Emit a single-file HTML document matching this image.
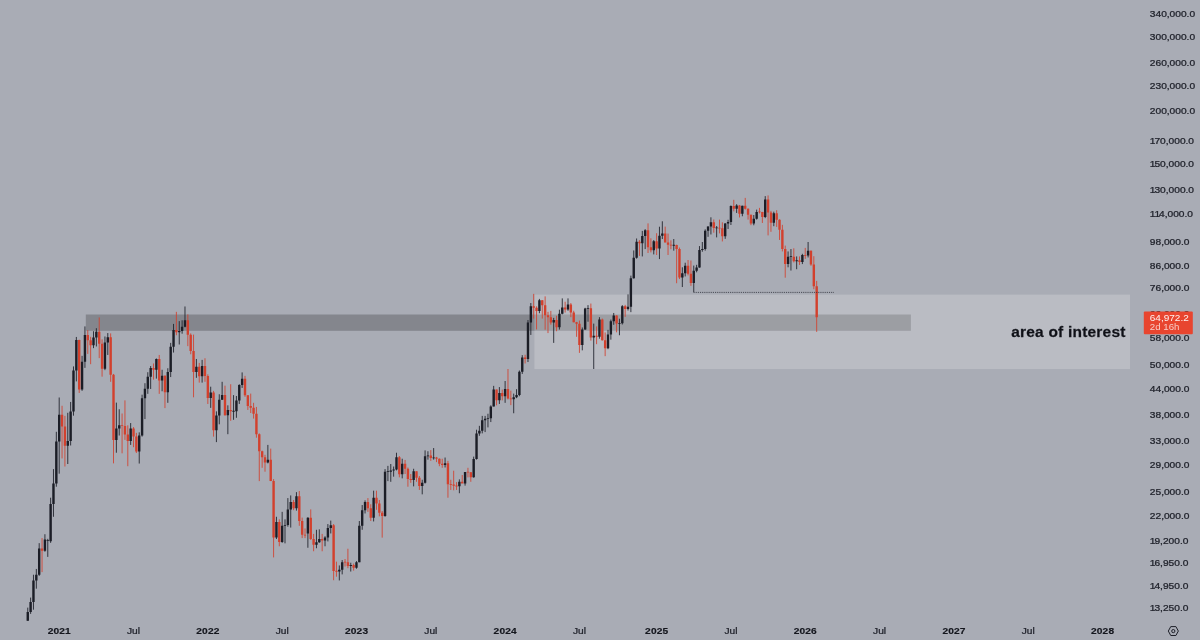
<!DOCTYPE html>
<html lang="en"><head><meta charset="utf-8"><title>BTCUSD weekly - area of interest</title>
<style>
html,body{margin:0;padding:0;background:#a9acb5;}
body{width:1200px;height:640px;overflow:hidden;position:relative;font-family:"Liberation Sans",Arial,sans-serif;}
svg{position:absolute;left:0;top:0;display:block}
svg text{font-family:"Liberation Sans",Arial,sans-serif;font-size:8.5px;fill:#1e2029;stroke:#1e2029;stroke-width:0.25px;}
.yr{font-weight:700;text-anchor:middle;fill:#14161d;stroke:#14161d;stroke-width:0.15px;letter-spacing:0.12px}
.mo{text-anchor:middle;fill:#23252e}
.aoi{font-weight:700;font-size:14px;fill:#0f1016;text-anchor:end;letter-spacing:0.2px}
.plab text{fill:#fff;stroke:none}
</style></head>
<body>
<svg width="1200" height="640" viewBox="0 0 1200 640">
<rect x="0" y="0" width="1200" height="640" fill="#a9acb5"/>
<rect id="darkband" x="85.8" y="314.5" width="825.1" height="16.3" fill="#000000" fill-opacity="0.22"/>
<rect id="lightbox" x="534.4" y="294.6" width="595.6" height="74.5" fill="#ffffff" fill-opacity="0.2"/>
<g id="candles">
<path d="M27.76 607.62V620.80M30.62 597.59V613.91M33.47 574.73V609.69M36.33 568.96V588.69M39.19 543.14V575.89M44.91 534.22V551.76M47.77 538.84V556.90M50.62 497.71V542.85M53.48 469.10V516.79M56.34 431.80V486.71M59.20 397.51V473.68M67.78 412.79V464.00M70.63 401.94V445.48M73.49 366.41V415.66M76.35 336.96V381.40M82.07 355.83V390.86M84.93 326.42V367.89M93.50 331.24V348.15M96.36 328.21V346.48M104.93 336.49V370.14M107.79 333.07V354.96M116.37 402.62V452.73M119.23 409.26V435.53M130.66 423.05V444.92M139.24 432.33V463.56M142.09 394.69V436.61M144.95 383.21V419.07M147.81 372.22V393.83M150.67 366.04V388.97M156.39 358.46V378.62M162.10 369.76V391.28M167.82 368.26V402.84M170.68 342.88V377.05M173.54 323.92V352.54M179.25 321.15V344.51M182.11 320.29V333.69M184.97 306.47V327.32M196.40 358.99V377.83M202.12 359.88V382.61M210.70 386.69V407.86M216.41 411.37V442.11M219.27 394.26V424.31M222.13 381.80V399.94M227.85 405.33V434.19M233.56 395.12V419.81M236.42 395.99V417.80M239.28 384.23V403.97M242.14 372.41V387.93M267.86 444.92V463.37M276.44 516.79V539.03M282.16 511.83V542.85M285.01 519.32V543.34M287.87 498.08V526.69M290.73 495.45V527.57M296.45 492.13V510.61M307.88 517.21V547.75M316.46 529.81V548.24M319.31 529.36V542.85M325.03 536.22V546.27M327.89 524.05V541.41M330.75 520.60V533.44M339.32 565.44V580.45M342.18 560.05V574.39M350.76 562.72V571.54M356.47 561.12V568.74M359.33 521.03V562.19M362.19 505.02V529.81M365.05 500.37V513.47M373.62 490.67V521.46M385.06 469.10V516.79M387.92 465.89V481.11M390.77 464.00V481.80M393.63 466.53V476.68M396.49 452.73V470.39M402.21 458.73V478.37M413.64 468.77V486.36M422.22 479.74V494.34M425.08 450.38V483.54M427.93 451.25V459.65M433.65 448.06V459.65M445.08 457.52V467.49M459.38 479.39V493.23M465.09 476.34V485.65M473.67 456.61V477.69M476.53 429.71V459.65M479.38 425.84V435.80M482.24 415.90V433.39M485.10 415.90V432.07M487.96 413.74V427.38M490.82 405.33V422.05M493.68 385.86V406.48M499.39 387.10V403.97M505.11 381.00V402.84M513.69 393.62V413.26M516.54 389.18V398.17M519.40 370.51V396.21M522.26 355.13V373.94M527.98 320.00V362.03M530.84 303.04V334.93M539.41 298.90V313.25M553.70 317.87V342.88M559.42 309.69V329.57M562.28 298.39V314.36M568.00 298.39V310.78M582.29 327.46V350.33M585.15 307.80V329.87M588.00 305.14V321.73M593.72 323.62V369.01M599.44 317.16V338.70M608.01 329.87V349.15M610.87 319.57V339.66M613.73 312.97V324.80M619.45 318.72V335.24M622.30 305.14V324.50M628.02 294.36V310.51M630.88 275.65V312.15M633.74 250.44V278.60M636.60 238.48V258.67M642.31 230.91V256.43M645.17 229.16V249.07M653.75 240.05V254.41M659.46 226.73V259.08M662.32 221.29V239.03M673.76 239.03V250.64M682.33 267.29V287.03M685.19 262.72V276.44M693.76 265.57V292.13M696.62 264.83V272.30M699.48 246.08V267.72M702.34 242.00V251.72M705.20 229.33V250.64M708.06 226.30V236.83M710.92 217.31V234.48M716.63 226.04V237.38M725.21 223.14V238.85M728.07 219.79V228.98M730.92 205.42V225.01M736.64 204.20V212.94M742.36 205.73V216.25M753.79 215.03V225.27M756.65 209.61V219.62M765.22 196.14V218.14M773.80 211.67V226.21M788.09 251.43V267.29M790.95 249.07V270.54M796.67 256.43V269.23M802.38 253.81V264.09M808.10 242.00V257.44" stroke="#1b1d26" stroke-width="0.85" fill="none"/>
<path d="M42.05 538.09V572.11M62.06 405.79V458.43M64.92 415.90V466.53M79.21 339.66V392.98M87.78 330.02V353.92M90.64 336.81V364.20M99.22 317.44V358.11M102.08 339.34V376.66M110.65 333.38V381.80M113.51 373.94V463.37M122.08 413.50V453.32M124.94 400.38V439.89M127.80 425.33V466.21M133.52 427.12V447.20M136.38 432.86V453.02M153.53 363.48V379.61M159.24 354.96V393.83M164.96 375.30V408.09M176.39 311.87V335.24M187.83 314.36V346.15M190.69 333.38V354.26M193.54 334.62V397.30M199.26 362.93V382.61M204.98 358.28V381.80M207.84 374.33V403.97M213.55 390.86V436.61M224.99 385.66V415.66M230.70 384.23V420.80M245.00 375.88V396.86M247.85 395.12V409.96M250.71 393.62V413.02M253.57 402.84V418.58M256.43 406.94V437.70M259.29 433.39V481.11M262.15 450.67V467.81M265.00 454.81V471.70M270.72 448.64V481.11M273.58 479.05V557.42M279.30 519.32V546.27M293.59 499.99V510.20M299.31 491.03V525.80M302.16 517.63V538.09M305.02 528.46V538.09M310.74 509.40V539.98M313.60 533.90V551.25M322.17 533.90V551.25M333.61 524.05V580.21M336.46 561.65V576.70M345.04 559.00V566.53M347.90 548.74V568.19M353.62 563.59V570.64M367.91 498.08V511.83M370.77 504.24V521.03M376.48 490.67V509.80M379.34 499.99V516.37M382.20 511.01V537.62M399.35 456.01V477.36M405.07 459.96V474.01M407.92 467.49V486.71M410.78 474.01V482.84M416.50 471.37V481.80M419.36 476.01V489.94M430.79 450.09V460.88M436.51 456.91V462.12M439.37 458.43V466.21M442.23 458.73V467.81M447.94 460.88V497.71M450.80 479.74V489.94M453.66 470.72V490.31M456.52 482.15V489.94M462.23 475.01V482.84M467.95 467.81V477.36M470.81 472.03V481.80M496.54 389.60V405.33M502.25 389.60V400.38M507.97 369.01V399.49M510.83 390.65V405.11M525.12 354.78V363.48M533.69 293.86V318.58M536.55 306.33V329.42M542.27 300.05V318.58M545.13 296.36V329.72M547.99 311.87V333.07M550.84 310.91V324.65M556.56 315.75V331.24M565.14 301.73V312.56M570.85 303.04V317.16M573.71 310.78V322.31M576.57 321.88V336.81M579.43 320.58V352.89M590.86 303.56V340.62M596.58 326.42V344.18M602.30 318.58V340.62M605.15 332.46V356.17M616.59 315.33V332.31M625.16 304.88V316.88M639.46 240.14V255.92M648.03 223.39V253.01M650.89 238.29V252.42M656.61 233.22V255.01M665.18 226.64V242.29M668.04 233.58V255.01M670.90 240.33V249.27M676.61 244.65V283.23M679.47 247.52V279.06M688.05 260.01V275.42M690.91 260.53V285.83M713.77 219.46V232.69M719.49 219.62V233.40M722.35 222.30V241.44M733.78 199.82V211.35M739.50 204.96V217.48M745.22 197.90V209.61M748.07 208.36V219.62M750.93 214.63V225.18M759.51 207.89V213.42M762.37 211.83V222.97M768.08 195.41V235.38M770.94 210.87V231.80M776.66 210.24V226.90M779.52 219.29V239.95M782.38 224.84V251.43M785.23 245.60V277.69M793.81 248.30V262.40M799.53 256.43V264.93M805.24 247.91V258.88M810.96 250.44V265.79M813.82 256.22V289.19M816.68 280.90V331.85" stroke="#d2402d" stroke-width="0.85" fill="none"/>
<path d="M26.56 612.07h2.4V620.80h-2.4zM29.42 602.06h2.4V612.07h-2.4zM32.27 580.45h2.4V602.06h-2.4zM35.13 574.85h2.4V580.45h-2.4zM37.99 548.54h2.4V574.85h-2.4zM43.71 539.41h2.4V550.85h-2.4zM46.57 540.25h2.4V541.05h-2.4zM49.42 504.08h2.4V541.22h-2.4zM52.28 483.54h2.4V504.08h-2.4zM55.14 441.55h2.4V483.54h-2.4zM58.00 414.70h2.4V441.55h-2.4zM66.58 440.99h2.4V445.77h-2.4zM69.43 411.60h2.4V440.99h-2.4zM72.29 370.51h2.4V411.60h-2.4zM75.15 339.88h2.4V370.51h-2.4zM80.87 361.85h2.4V389.60h-2.4zM83.73 334.93h2.4V361.85h-2.4zM92.30 337.44h2.4V345.16h-2.4zM95.16 331.85h2.4V337.44h-2.4zM103.73 342.55h2.4V368.64h-2.4zM106.59 337.28h2.4V342.55h-2.4zM115.17 428.41h2.4V439.89h-2.4zM118.03 425.33h2.4V428.41h-2.4zM129.46 428.41h2.4V440.99h-2.4zM138.04 435.53h2.4V451.55h-2.4zM140.89 398.17h2.4V435.53h-2.4zM143.75 388.76h2.4V398.17h-2.4zM146.61 376.66h2.4V388.76h-2.4zM149.47 367.89h2.4V376.66h-2.4zM155.19 358.99h2.4V369.76h-2.4zM160.90 375.68h2.4V380.60h-2.4zM166.62 372.03h2.4V392.34h-2.4zM169.48 346.81h2.4V372.03h-2.4zM172.34 330.02h2.4V346.81h-2.4zM178.05 330.93h2.4V332.31h-2.4zM180.91 326.72h2.4V330.93h-2.4zM183.77 320.29h2.4V326.72h-2.4zM195.20 366.85h2.4V372.03h-2.4zM200.92 366.07h2.4V376.27h-2.4zM209.50 392.55h2.4V397.95h-2.4zM215.21 415.42h2.4V430.23h-2.4zM218.07 399.72h2.4V415.42h-2.4zM220.93 395.12h2.4V399.72h-2.4zM226.65 409.96h2.4V415.18h-2.4zM232.36 410.85h2.4V411.65h-2.4zM235.22 400.60h2.4V411.13h-2.4zM238.08 385.04h2.4V400.60h-2.4zM240.94 378.82h2.4V385.04h-2.4zM266.66 459.65h2.4V462.43h-2.4zM275.24 521.89h2.4V537.62h-2.4zM280.96 525.80h2.4V541.89h-2.4zM283.81 524.93h2.4V525.80h-2.4zM286.67 509.40h2.4V524.93h-2.4zM289.53 501.91h2.4V509.40h-2.4zM295.25 496.20h2.4V508.19h-2.4zM306.68 517.63h2.4V533.44h-2.4zM315.26 542.37h2.4V544.80h-2.4zM318.11 539.03h2.4V542.37h-2.4zM323.83 537.62h2.4V540.46h-2.4zM326.69 528.02h2.4V537.62h-2.4zM329.55 525.36h2.4V528.02h-2.4zM338.12 569.86h2.4V571.54h-2.4zM340.98 562.19h2.4V569.86h-2.4zM349.56 565.11h2.4V565.98h-2.4zM355.27 562.19h2.4V567.63h-2.4zM358.13 525.80h2.4V562.19h-2.4zM360.99 510.20h2.4V525.80h-2.4zM363.85 501.91h2.4V510.20h-2.4zM372.42 497.71h2.4V517.63h-2.4zM383.86 471.70h2.4V515.95h-2.4zM386.72 471.30h2.4V472.10h-2.4zM389.57 470.39h2.4V471.70h-2.4zM392.43 469.42h2.4V470.39h-2.4zM395.29 457.21h2.4V469.42h-2.4zM401.01 463.68h2.4V474.34h-2.4zM412.44 471.37h2.4V480.08h-2.4zM421.02 482.84h2.4V486.00h-2.4zM423.88 456.31h2.4V482.84h-2.4zM426.73 455.41h2.4V456.31h-2.4zM432.45 457.42h2.4V458.22h-2.4zM443.88 463.37h2.4V464.94h-2.4zM458.18 481.80h2.4V486.36h-2.4zM463.89 472.03h2.4V483.54h-2.4zM472.47 459.04h2.4V477.36h-2.4zM475.33 433.39h2.4V459.04h-2.4zM478.18 430.75h2.4V433.39h-2.4zM481.04 420.31h2.4V430.75h-2.4zM483.90 418.83h2.4V420.31h-2.4zM486.76 418.18h2.4V418.98h-2.4zM489.62 406.48h2.4V418.34h-2.4zM492.48 389.60h2.4V406.48h-2.4zM498.19 392.98h2.4V400.16h-2.4zM503.91 388.97h2.4V396.21h-2.4zM512.49 397.30h2.4V399.27h-2.4zM515.34 394.91h2.4V397.30h-2.4zM518.20 371.65h2.4V394.91h-2.4zM521.06 357.58h2.4V371.65h-2.4zM526.78 322.46h2.4V358.99h-2.4zM529.64 306.20h2.4V322.46h-2.4zM538.21 300.18h2.4V311.05h-2.4zM552.50 320.00h2.4V322.60h-2.4zM558.22 313.66h2.4V327.32h-2.4zM561.08 307.53h2.4V313.66h-2.4zM566.80 304.48h2.4V309.55h-2.4zM581.09 329.42h2.4V345.00h-2.4zM583.95 308.47h2.4V329.42h-2.4zM586.80 307.94h2.4V308.74h-2.4zM592.52 335.87h2.4V337.59h-2.4zM598.24 319.43h2.4V336.65h-2.4zM606.81 334.46h2.4V348.31h-2.4zM609.67 321.15h2.4V334.46h-2.4zM612.53 315.47h2.4V321.15h-2.4zM618.25 323.00h2.4V323.80h-2.4zM621.10 306.20h2.4V323.33h-2.4zM626.82 306.87h2.4V308.88h-2.4zM629.68 278.14h2.4V306.87h-2.4zM632.54 257.75h2.4V278.14h-2.4zM635.40 241.82h2.4V257.75h-2.4zM641.11 236.10h2.4V243.32h-2.4zM643.97 230.21h2.4V236.10h-2.4zM652.55 241.16h2.4V250.25h-2.4zM658.26 235.74h2.4V248.49h-2.4zM661.12 233.40h2.4V235.74h-2.4zM672.56 244.87h2.4V245.67h-2.4zM681.13 273.30h2.4V277.46h-2.4zM683.99 265.68h2.4V273.30h-2.4zM692.56 270.65h2.4V282.88h-2.4zM695.42 267.61h2.4V270.65h-2.4zM698.28 249.95h2.4V267.61h-2.4zM701.14 248.88h2.4V249.95h-2.4zM704.00 230.74h2.4V248.88h-2.4zM706.86 226.55h2.4V230.74h-2.4zM709.72 222.30h2.4V226.55h-2.4zM715.43 227.54h2.4V228.34h-2.4zM724.01 223.39h2.4V236.28h-2.4zM726.87 221.96h2.4V223.39h-2.4zM729.72 206.04h2.4V221.96h-2.4zM735.44 205.57h2.4V208.83h-2.4zM741.16 205.73h2.4V213.74h-2.4zM752.59 218.71h2.4V223.56h-2.4zM755.45 211.91h2.4V218.71h-2.4zM764.02 199.38h2.4V216.99h-2.4zM772.60 213.26h2.4V222.80h-2.4zM786.89 256.63h2.4V264.09h-2.4zM789.75 256.23h2.4V257.03h-2.4zM795.47 260.32h2.4V261.15h-2.4zM801.18 255.01h2.4V261.98h-2.4zM806.90 250.64h2.4V255.62h-2.4z" fill="#1b1d26"/>
<path d="M40.85 548.54h2.4V550.85h-2.4zM60.86 414.70h2.4V426.45h-2.4zM63.72 426.45h2.4V445.77h-2.4zM78.01 339.88h2.4V389.60h-2.4zM86.58 334.93h2.4V340.14h-2.4zM89.44 340.14h2.4V345.16h-2.4zM98.02 331.85h2.4V343.85h-2.4zM100.88 343.85h2.4V368.64h-2.4zM109.45 337.28h2.4V374.71h-2.4zM112.31 374.71h2.4V439.89h-2.4zM120.88 425.31h2.4V426.11h-2.4zM123.74 426.09h2.4V434.46h-2.4zM126.60 434.46h2.4V440.99h-2.4zM132.32 428.41h2.4V436.61h-2.4zM135.18 436.61h2.4V451.55h-2.4zM152.33 367.89h2.4V369.76h-2.4zM158.04 358.99h2.4V380.60h-2.4zM163.76 375.68h2.4V392.34h-2.4zM175.19 330.02h2.4V332.31h-2.4zM186.63 320.29h2.4V334.77h-2.4zM189.49 334.77h2.4V351.01h-2.4zM192.34 351.01h2.4V372.03h-2.4zM198.06 366.85h2.4V376.27h-2.4zM203.78 366.07h2.4V376.07h-2.4zM206.64 376.07h2.4V397.95h-2.4zM212.35 392.55h2.4V430.23h-2.4zM223.79 395.12h2.4V415.18h-2.4zM229.50 409.96h2.4V411.37h-2.4zM243.80 378.82h2.4V395.34h-2.4zM246.65 395.34h2.4V406.02h-2.4zM249.51 406.02h2.4V407.86h-2.4zM252.37 407.86h2.4V413.74h-2.4zM255.23 413.74h2.4V434.19h-2.4zM258.09 434.19h2.4V451.25h-2.4zM260.95 451.25h2.4V457.21h-2.4zM263.80 457.21h2.4V462.43h-2.4zM269.52 459.65h2.4V481.11h-2.4zM272.38 481.11h2.4V537.62h-2.4zM278.10 521.89h2.4V541.89h-2.4zM292.39 501.91h2.4V508.19h-2.4zM298.11 496.20h2.4V521.03h-2.4zM300.96 521.03h2.4V534.82h-2.4zM303.82 534.65h2.4V535.45h-2.4zM309.54 517.63h2.4V539.03h-2.4zM312.40 539.03h2.4V544.80h-2.4zM320.97 539.03h2.4V540.46h-2.4zM332.41 525.36h2.4V570.98h-2.4zM335.26 570.86h2.4V571.66h-2.4zM343.84 561.68h2.4V562.48h-2.4zM346.70 562.19h2.4V565.98h-2.4zM352.42 565.11h2.4V567.63h-2.4zM366.71 501.91h2.4V508.19h-2.4zM369.57 508.19h2.4V517.63h-2.4zM375.28 497.71h2.4V503.46h-2.4zM378.14 503.46h2.4V512.65h-2.4zM381.00 512.65h2.4V515.95h-2.4zM398.15 457.21h2.4V474.34h-2.4zM403.87 463.68h2.4V468.77h-2.4zM406.72 468.77h2.4V479.05h-2.4zM409.58 479.05h2.4V480.08h-2.4zM415.30 471.37h2.4V477.69h-2.4zM418.16 477.69h2.4V486.00h-2.4zM429.59 455.41h2.4V458.12h-2.4zM435.31 457.52h2.4V458.73h-2.4zM438.17 458.73h2.4V463.68h-2.4zM441.03 463.68h2.4V464.94h-2.4zM446.74 463.37h2.4V484.24h-2.4zM449.60 484.02h2.4V484.82h-2.4zM452.46 484.59h2.4V485.65h-2.4zM455.32 485.61h2.4V486.41h-2.4zM461.03 481.80h2.4V483.54h-2.4zM466.75 471.79h2.4V472.59h-2.4zM469.61 472.36h2.4V477.36h-2.4zM495.34 389.60h2.4V400.16h-2.4zM501.05 392.98h2.4V396.21h-2.4zM506.77 388.97h2.4V398.39h-2.4zM509.63 398.39h2.4V399.27h-2.4zM523.92 357.58h2.4V358.99h-2.4zM532.49 306.20h2.4V307.80h-2.4zM535.35 307.80h2.4V311.05h-2.4zM541.07 300.18h2.4V305.27h-2.4zM543.93 305.27h2.4V315.19h-2.4zM546.79 315.19h2.4V317.30h-2.4zM549.64 317.30h2.4V322.60h-2.4zM555.36 320.00h2.4V327.32h-2.4zM563.94 307.53h2.4V309.55h-2.4zM569.65 304.48h2.4V312.56h-2.4zM572.51 312.56h2.4V322.31h-2.4zM575.37 322.31h2.4V323.77h-2.4zM578.23 323.77h2.4V345.00h-2.4zM589.66 308.21h2.4V337.59h-2.4zM595.38 335.86h2.4V336.66h-2.4zM601.10 319.43h2.4V340.30h-2.4zM603.95 340.30h2.4V348.31h-2.4zM615.39 315.47h2.4V323.48h-2.4zM623.96 306.20h2.4V308.88h-2.4zM638.26 241.82h2.4V243.32h-2.4zM646.83 230.21h2.4V247.33h-2.4zM649.69 247.33h2.4V250.25h-2.4zM655.41 241.16h2.4V248.49h-2.4zM663.98 233.40h2.4V242.38h-2.4zM666.84 242.38h2.4V244.74h-2.4zM669.70 244.68h2.4V245.48h-2.4zM675.41 245.12h2.4V248.98h-2.4zM678.27 248.98h2.4V277.46h-2.4zM686.85 265.68h2.4V273.74h-2.4zM689.71 273.74h2.4V282.88h-2.4zM712.57 222.30h2.4V227.94h-2.4zM718.29 227.71h2.4V228.51h-2.4zM721.15 228.29h2.4V236.28h-2.4zM732.58 206.04h2.4V208.83h-2.4zM738.30 205.57h2.4V213.74h-2.4zM744.02 205.73h2.4V208.67h-2.4zM746.87 208.67h2.4V214.87h-2.4zM749.73 214.87h2.4V223.56h-2.4zM758.31 211.55h2.4V212.35h-2.4zM761.17 211.99h2.4V216.99h-2.4zM766.88 199.38h2.4V212.46h-2.4zM769.74 212.46h2.4V222.80h-2.4zM775.46 213.26h2.4V219.79h-2.4zM778.32 219.79h2.4V229.68h-2.4zM781.18 229.68h2.4V249.07h-2.4zM784.03 249.07h2.4V264.09h-2.4zM792.61 256.63h2.4V261.15h-2.4zM798.33 260.32h2.4V261.98h-2.4zM804.04 254.92h2.4V255.72h-2.4zM809.76 250.64h2.4V264.51h-2.4zM812.62 264.51h2.4V286.31h-2.4zM815.48 286.31h2.4V317.24h-2.4z" fill="#d2402d"/>
</g>
<path d="M693.5 292.4H834" stroke="#30323b" stroke-width="0.8" stroke-dasharray="1.15 1.0" fill="none"/>
<text class="aoi" transform="translate(1125.6 336.8) scale(1.105 1)">area of interest</text>
<g id="yaxis"><text transform="translate(1149.8 16.9) scale(1.2 1)">340,000.0</text><text transform="translate(1149.8 39.9) scale(1.2 1)">300,000.0</text><text transform="translate(1149.8 66.1) scale(1.2 1)">260,000.0</text><text transform="translate(1149.8 88.6) scale(1.2 1)">230,000.0</text><text transform="translate(1149.8 114.2) scale(1.2 1)">200,000.0</text><text transform="translate(1149.8 143.9) scale(1.2 1)">1<tspan dx="-0.9">7</tspan>0,000.0</text><text transform="translate(1149.8 166.9) scale(1.2 1)">1<tspan dx="-0.9">5</tspan>0,000.0</text><text transform="translate(1149.8 193.1) scale(1.2 1)">1<tspan dx="-0.9">3</tspan>0,000.0</text><text transform="translate(1149.8 217.1) scale(1.2 1)">1<tspan dx="-0.9">1</tspan><tspan dx="-0.9">4</tspan>,000.0</text><text transform="translate(1149.8 244.8) scale(1.2 1)">98,000.0</text><text transform="translate(1149.8 268.8) scale(1.2 1)">86,000.0</text><text transform="translate(1149.8 291.4) scale(1.2 1)">76,000.0</text><text transform="translate(1149.8 340.9) scale(1.2 1)">58,000.0</text><text transform="translate(1149.8 368.1) scale(1.2 1)">50,000.0</text><text transform="translate(1149.8 391.5) scale(1.2 1)">44,000.0</text><text transform="translate(1149.8 418.4) scale(1.2 1)">38,000.0</text><text transform="translate(1149.8 444.3) scale(1.2 1)">33,000.0</text><text transform="translate(1149.8 467.9) scale(1.2 1)">29,000.0</text><text transform="translate(1149.8 495.1) scale(1.2 1)">25,000.0</text><text transform="translate(1149.8 518.5) scale(1.2 1)">22,000.0</text><text transform="translate(1149.8 543.5) scale(1.2 1)">1<tspan dx="-0.9">9</tspan>,200.0</text><text transform="translate(1149.8 566.3) scale(1.2 1)">1<tspan dx="-0.9">6</tspan>,950.0</text><text transform="translate(1149.8 589.3) scale(1.2 1)">1<tspan dx="-0.9">4</tspan>,950.0</text><text transform="translate(1149.8 611.4) scale(1.2 1)">1<tspan dx="-0.9">3</tspan>,250.0</text></g>
<g id="xaxis"><text class="yr" transform="translate(59.3 634.1) scale(1.2 1)">2021</text><text class="yr" transform="translate(207.9 634.1) scale(1.2 1)">2022</text><text class="yr" transform="translate(356.6 634.1) scale(1.2 1)">2023</text><text class="yr" transform="translate(505.2 634.1) scale(1.2 1)">2024</text><text class="yr" transform="translate(656.7 634.1) scale(1.2 1)">2025</text><text class="yr" transform="translate(805.3 634.1) scale(1.2 1)">2026</text><text class="yr" transform="translate(954.0 634.1) scale(1.2 1)">2027</text><text class="yr" transform="translate(1102.6 634.1) scale(1.2 1)">2028</text><text class="mo" transform="translate(133.5 634.1) scale(1.2 1)">Jul</text><text class="mo" transform="translate(282.2 634.1) scale(1.2 1)">Jul</text><text class="mo" transform="translate(430.8 634.1) scale(1.2 1)">Jul</text><text class="mo" transform="translate(579.4 634.1) scale(1.2 1)">Jul</text><text class="mo" transform="translate(730.9 634.1) scale(1.2 1)">Jul</text><text class="mo" transform="translate(879.6 634.1) scale(1.2 1)">Jul</text><text class="mo" transform="translate(1028.2 634.1) scale(1.2 1)">Jul</text></g>
<text transform="translate(1149.8 317.3) scale(1.2 1)">66,000.0</text>
<g class="plab">
<rect x="1143.8" y="311.6" width="49" height="22.6" rx="1" fill="#e8452f"/>
<text transform="translate(1149.8 320.5) scale(1.18 1)" fill-opacity="0.93">64,972.2</text>
<text transform="translate(1149.8 330.4) scale(1.14 1)" fill-opacity="0.72">2d 16h</text>
</g>
<g id="gear" fill="none" stroke="#1e2029" stroke-width="1">
<path d="M1168.3 631.05L1170.75 626.6H1175.9L1178.35 631.05L1175.9 635.5H1170.75Z" stroke-linejoin="round"/>
<circle cx="1173.3" cy="631.1" r="1.6"/>
</g>
</svg>
</body></html>
